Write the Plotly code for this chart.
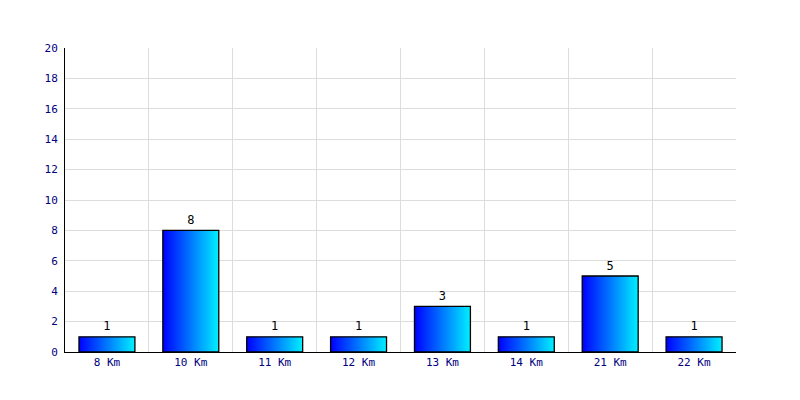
import plotly.graph_objects as go

categories = ["8 Km", "10 Km", "11 Km", "12 Km", "13 Km", "14 Km", "21 Km", "22 Km"]
values = [1, 8, 1, 1, 3, 1, 5, 1]
y_ticks = list(range(0, 21, 2))

BAR_W = 0.667
fig = go.Figure()
for i, v in enumerate(values):
    x0, x1 = i - BAR_W / 2, i + BAR_W / 2
    fig.add_trace(go.Scatter(
        x=[x0, x1, x1, x0, x0], y=[0, 0, v, v, 0],
        mode="lines", fill="toself",
        fillgradient=dict(type="horizontal",
                          colorscale=[[0, "#0000ff"], [1, "#00f0ff"]]),
        line=dict(color="black", width=1.3),
        hoverinfo="skip", showlegend=False,
    ))
fig.add_trace(go.Scatter(
    x=list(range(len(categories))), y=values,
    mode="markers+text", text=[str(v) for v in values], textposition="top center",
    marker=dict(size=4, color="rgba(0,0,0,0)"),
    textfont=dict(family="DejaVu Sans Mono", size=12, color="black"),
    showlegend=False, hovertemplate="%{customdata}: %{y}<extra></extra>",
    customdata=categories, cliponaxis=False,
))

fig.update_layout(
    width=800, height=400,
    margin=dict(l=57, r=72, t=40, b=56),
    plot_bgcolor="white", paper_bgcolor="white",
    font=dict(family="DejaVu Sans Mono", size=11, color="#000080"),
    xaxis=dict(
        range=[-0.5, len(categories) - 0.5],
        tickvals=list(range(len(categories))), ticktext=categories,
        showgrid=False, zeroline=False,
        showline=True, linecolor="black", linewidth=1,
        ticks="", fixedrange=True,
        minor=dict(tickvals=[i + 0.5 for i in range(len(categories))],
                   showgrid=True, gridcolor="#dddddd", gridwidth=1),
    ),
    yaxis=dict(
        range=[0, 20], tickvals=y_ticks,
        showgrid=True, gridcolor="#dddddd", gridwidth=1,
        zeroline=False, showline=True, linecolor="black", linewidth=1,
        ticks="", fixedrange=True, ticklabelstandoff=4,
    ),
)
fig.write_html("out.html")
